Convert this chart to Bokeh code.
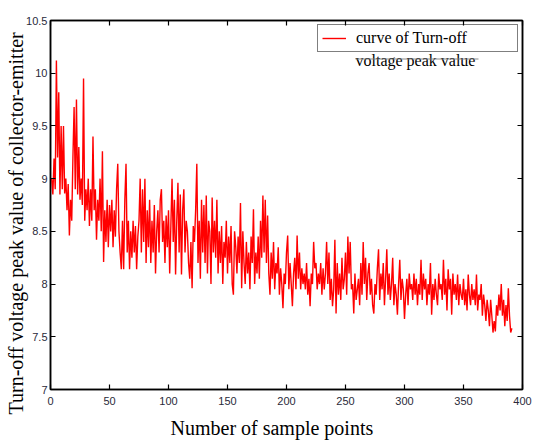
from bokeh.plotting import figure
from bokeh.models import (Range1d, LinearAxis, FixedTicker, Label, Legend, LegendItem,
                          BoxAnnotation, Title)
from bokeh.embed import file_html
from bokeh.resources import INLINE

# ---- data ----
voltage = [
    9.0, 8.85, 9.19, 8.9, 10.12, 9.2, 9.82, 8.85, 9.5, 8.9,
    9.5, 8.86, 9.0, 8.7, 8.95, 8.46, 8.8, 8.6, 9.2, 9.68,
    8.9, 9.75, 8.85, 9.3, 8.8, 9.0, 8.75, 9.95, 8.6, 8.9,
    8.7, 9.0, 8.55, 8.9, 8.6, 9.4, 8.7, 8.9, 8.42, 8.8,
    8.6, 9.0, 8.5, 9.26, 8.21, 8.7, 8.4, 8.8, 8.35, 8.75,
    8.5, 8.8, 8.35, 8.7, 8.45, 8.9, 9.14, 8.5, 8.3, 8.14,
    8.6, 8.14, 8.8, 9.14, 8.3, 8.6, 8.14, 8.5, 8.25, 8.6,
    8.3, 8.55, 8.14, 8.45, 8.6, 9.0, 8.3, 8.9, 8.4, 9.0,
    8.2, 8.7, 8.35, 8.8, 8.2, 8.6, 8.3, 8.75, 8.1, 8.5,
    8.7, 8.3, 8.8, 8.9, 8.4, 8.6, 8.2, 8.65, 8.35, 8.7,
    8.1, 8.55, 9.0, 8.4, 8.8, 8.09, 8.6, 8.96, 8.3, 8.85,
    8.09, 8.7, 8.9, 8.3, 8.6, 8.5, 8.2, 8.05, 8.4, 7.96,
    8.55, 8.4, 8.7, 9.14, 8.2, 8.6, 8.05, 8.8, 8.3, 8.75,
    8.2, 8.84, 8.1, 8.6, 8.5, 8.0, 8.82, 8.3, 8.6, 8.25,
    8.8, 8.1, 8.5, 8.2, 8.55, 8.0, 8.4, 8.25, 8.6, 8.1,
    8.45, 8.2, 8.55, 8.0, 7.9, 8.5, 8.35, 8.1, 8.45, 8.2,
    8.77, 7.96, 8.5, 8.2, 8.0, 8.4, 8.1, 8.3, 7.95, 8.45,
    8.2, 8.71, 8.0, 8.3, 8.1, 8.45, 8.05, 8.6, 8.25, 8.84,
    8.3, 8.8, 8.2, 8.65, 8.1, 7.9, 8.3, 8.05, 8.4, 7.95,
    8.2, 8.1, 8.35, 7.9, 8.15, 8.0, 7.77, 8.1, 8.0, 8.3,
    8.46, 7.95, 8.2, 8.0, 7.79, 8.1, 8.25, 7.95, 8.46, 8.05,
    8.3, 7.95, 8.15, 8.0, 8.1, 7.95, 8.2, 7.9, 8.05, 7.79,
    8.1, 8.0, 8.4, 8.15, 8.2, 7.95, 8.1, 8.0, 8.2, 7.9,
    8.15, 7.95, 8.1, 8.4, 8.0, 8.3, 7.85, 8.05, 7.79, 7.95,
    8.42, 7.72, 8.2, 7.9, 8.1, 7.85, 8.25, 7.95, 8.05, 8.3,
    7.9, 8.45, 8.1, 8.4, 7.95, 8.0, 7.72, 8.1, 7.85, 7.95,
    8.05, 7.8, 8.2, 7.9, 8.4, 8.0, 8.25, 7.85, 8.1, 8.2,
    7.9, 8.05, 7.8, 7.72, 8.0, 7.9, 8.15, 8.33, 7.85, 8.1,
    7.95, 8.2, 7.8, 8.05, 8.33, 7.9, 8.1, 7.85, 8.0, 8.25,
    7.8, 8.0, 7.9, 7.71, 8.0, 8.23, 7.85, 8.05, 7.95, 7.67,
    7.9, 8.05, 7.8, 8.1, 7.95, 8.0, 7.85, 8.1, 7.9, 8.05,
    7.8, 8.0, 7.9, 8.23, 7.85, 8.1, 7.95, 8.05, 7.8, 8.0,
    7.9, 8.2, 7.71, 8.0, 7.85, 8.05, 7.9, 7.8, 8.1, 7.95,
    8.0, 7.85, 8.23, 7.9, 8.05, 7.75, 8.14, 7.95, 8.05, 7.71,
    8.1, 7.9, 8.0, 7.85, 8.09, 7.8, 8.0, 7.9, 7.85, 8.05,
    7.8, 7.95, 7.75, 8.09, 7.9, 7.8, 8.0, 7.85, 7.95, 7.8,
    8.09, 7.75, 7.9, 7.85, 8.0, 7.7, 7.9, 7.8, 7.65, 7.85,
    7.75, 7.6, 7.85, 7.7, 7.54, 7.65, 7.55, 7.8, 7.7, 7.9,
    7.75, 8.0, 7.7, 7.85, 7.6, 7.8, 7.65, 7.96, 7.7, 7.54, 7.58,
]
samples = list(range(1, len(voltage) + 1))

x_ticks = [0, 50, 100, 150, 200, 250, 300, 350, 400]
y_ticks = [7, 7.5, 8, 8.5, 9, 9.5, 10, 10.5]
y_tick_labels = ["7", "7.5", "8", "8.5", "9", "9.5", "10", "10.5"]

legend_line1 = "curve of Turn-off"
legend_line2 = "voltage peak value"
x_label = "Number of sample points"
y_label = "Turn-off voltage peak value of collector-emitter"

W, H = 536, 446
L, R, T, B = 50, 14, 20, 56

p = figure(width=W, height=H, output_backend="svg", toolbar_location=None,
           x_range=Range1d(0, 400), y_range=Range1d(7, 10.5),
           min_border_left=L, min_border_right=R, min_border_top=T, min_border_bottom=B)
p.background_fill_color = "white"
p.border_fill_color = "white"
p.xgrid.visible = False
p.ygrid.visible = False
p.outline_line_color = "black"
p.outline_line_width = 1.5

tick_font = "Liberation Sans"
for ax in (p.xaxis[0], p.yaxis[0]):
    ax.major_tick_in = 5
    ax.major_tick_out = 0
    ax.minor_tick_line_color = None
    ax.axis_line_color = "black"
    ax.axis_line_width = 1.5
    ax.major_tick_line_color = "black"
    ax.major_tick_line_width = 1.2
    ax.major_label_text_font = tick_font
    ax.major_label_text_font_size = "11px"
    ax.major_label_text_color = "#2a2a3a"

p.xaxis[0].ticker = FixedTicker(ticks=x_ticks)
p.yaxis[0].ticker = FixedTicker(ticks=y_ticks)
p.yaxis[0].major_label_overrides = {t: s for t, s in zip(y_ticks, y_tick_labels)}
p.xaxis[0].major_label_standoff = 7
p.yaxis[0].major_label_standoff = 3

for loc, ticks in (("above", x_ticks), ("right", y_ticks)):
    ax = LinearAxis(ticker=FixedTicker(ticks=ticks))
    ax.major_tick_in = 5
    ax.major_tick_out = 0
    ax.minor_tick_line_color = None
    ax.major_label_overrides = {t: "" for t in ticks}
    ax.major_label_standoff = 0
    ax.axis_line_color = "black"
    ax.axis_line_width = 1.5
    ax.major_tick_line_width = 1.2
    p.add_layout(ax, loc)

# axis titles as Title panels (annotations in screen units are clipped to the frame)
p.add_layout(Title(text=y_label, align="left", offset=-25, standoff=-6,
                   text_font="Liberation Serif", text_font_size="20px",
                   text_font_style="normal", text_color="black"), "left")
p.add_layout(Title(text=x_label, align="left", offset=120, standoff=15,
                   text_font="Liberation Serif", text_font_size="20px",
                   text_font_style="normal", text_color="black"), "below")

r = p.line(samples, voltage, line_color="#ff0000", line_width=1.4)

frame_h = H - T - B
serif = "Liberation Serif"

legend = Legend(items=[LegendItem(label=legend_line1, renderers=[r])],
                location=(267, frame_h - 53 + T), padding=4, spacing=0,
                glyph_width=24, glyph_height=16, label_height=16,
                label_standoff=10, label_width=157, margin=0,
                border_line_color="black", border_line_width=1.5,
                background_fill_alpha=0,
                label_text_font=serif, label_text_font_size="16px",
                label_text_color="black")
p.add_layout(legend, "center")

p.add_layout(Label(x=355 - L, y=frame_h + T - 61, x_units="screen", y_units="screen",
                   text=legend_line2, text_font=serif, text_font_size="16px",
                   text_baseline="middle", text_align="left", text_color="black"))
p.add_layout(BoxAnnotation(left=355 - L, right=478 - L, bottom=frame_h + T - 60,
                           top=frame_h + T - 59, left_units="screen", right_units="screen",
                           bottom_units="screen", top_units="screen",
                           fill_color="#808080", fill_alpha=0.9, line_color=None))

open("out.html", "w").write(file_html(p, INLINE))
